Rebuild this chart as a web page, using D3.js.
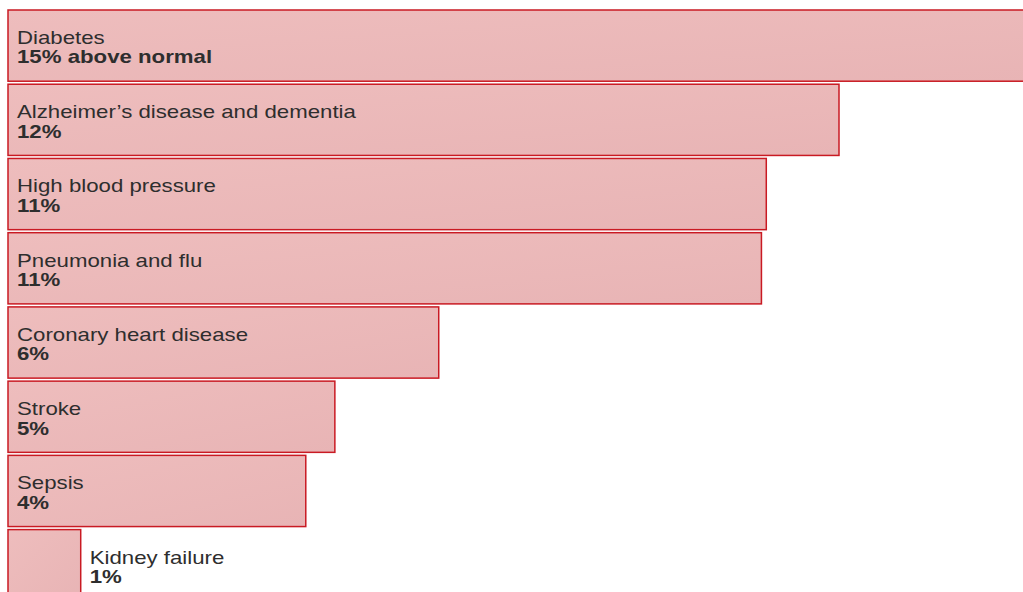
<!DOCTYPE html>
<html><head><meta charset="utf-8">
<script src="https://cdn.jsdelivr.net/npm/d3@7"></script>
<style>
html,body{margin:0;padding:0;background:#fff;overflow:hidden}
text{font-family:"Liberation Sans",Arial,sans-serif;fill:#2e2e2e}
</style></head>
<body><svg id="c" width="1023" height="592"></svg>
<script>
const categories = ["Diabetes","Alzheimer’s disease and dementia","High blood pressure","Pneumonia and flu","Coronary heart disease","Stroke","Sepsis","Kidney failure"];
const values = [15.0, 12.0, 10.95, 10.88, 6.22, 4.72, 4.3, 1.05];
const valueLabels = ["15% above normal","12%","11%","11%","6%","5%","4%","1%"];

const svg = d3.select("#c");
const data = categories.map((c,i)=>({c, v:values[i], l:valueLabels[i]}));
const x = d3.scaleLinear().domain([0,15]).range([8, 8+15*69.25]);
const y = d3.scaleBand().domain(categories).range([10, 10+73.85*8]).paddingInner(3/73.85).paddingOuter(0);

const defs = svg.append("defs");
const g = defs.append("linearGradient").attr("id","gr").attr("x1","0").attr("y1","0").attr("x2","1").attr("y2","1");
g.append("stop").attr("offset","0").attr("stop-color","#eebdbd");
g.append("stop").attr("offset","1").attr("stop-color","#e8b4b5");

svg.selectAll("rect.bar").data(data).join("rect")
  .attr("class","bar")
  .attr("x", x(0)).attr("y", d=>y(d.c))
  .attr("width", d=>x(d.v)-x(0)).attr("height", y.bandwidth())
  .attr("fill","url(#gr)").attr("stroke","#c91a23").attr("stroke-width",1.5);

const lab = svg.selectAll("g.lab").data(data).join("g").attr("class","lab")
  .attr("transform", d=>{
    const inside = x(d.v)-x(0) > 200;
    return `translate(${inside ? x(0)+9 : x(d.v)+9},${y(d.c)})`;
  });
const inner = lab.append("g");
inner.append("text").attr("y",34).attr("font-size",18).text(d=>d.c);
inner.append("text").attr("y",53.5).attr("font-size",18).attr("font-weight","bold").text(d=>d.l);
// horizontal stretch to match the reference's wide lettering
const probe = inner.filter(d=>d.c.startsWith("Alzheimer")).select("text").node();
const sx = 339 / probe.getComputedTextLength();
inner.attr("transform", `scale(${sx},1)`);
</script></body></html>
